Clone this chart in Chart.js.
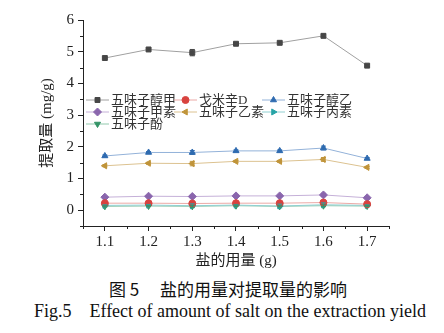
<!DOCTYPE html>
<html>
<head>
<meta charset="utf-8">
<script src="https://cdn.jsdelivr.net/npm/chart.js@4"></script>
<style>
  body { margin: 0; background: #fff; width: 444px; height: 333px; overflow: hidden; position: relative; }
  #wrap { position: absolute; left: 0; top: 0; width: 444px; height: 270px; }
  .cap { position: absolute; left: 0; width: 444px; text-align: center; color: #111; white-space: pre; }
  #cap1 { top: 276px; font: 17px "Noto Sans CJK SC", sans-serif; left: 6px; }
  #cap2 { top: 301px; font: 18px "Liberation Serif", serif; left: 8px; }
</style>
</head>
<body>
<div id="wrap"><canvas id="chart" width="444" height="270"></canvas></div>
<div class="cap" id="cap1">图 5　 盐的用量对提取量的影响</div>
<div class="cap" id="cap2">Fig.5    Effect of amount of salt on the extraction yield</div>
<script>
// salt amount (g)
const saltAmounts = [1.1, 1.2, 1.3, 1.4, 1.5, 1.6, 1.7];

// extraction yield (mg/g)
const schisandrinA  = [4.80, 5.07, 4.97, 5.25, 5.28, 5.50, 4.56]; // 五味子醇甲
const gomisinD      = [0.22, 0.22, 0.21, 0.22, 0.22, 0.24, 0.19]; // 戈米辛D
const schisandrolB  = [1.71, 1.82, 1.82, 1.87, 1.87, 1.96, 1.63]; // 五味子醇乙
const deoxySchisA   = [0.41, 0.44, 0.43, 0.45, 0.45, 0.48, 0.39]; // 五味子甲素
const schisandrinB  = [1.40, 1.48, 1.47, 1.54, 1.54, 1.60, 1.35]; // 五味子乙素
const schisandrinC  = [0.15, 0.16, 0.14, 0.16, 0.13, 0.17, 0.15]; // 五味子丙素
const schisanhenol  = [0.12, 0.13, 0.12, 0.14, 0.12, 0.14, 0.13]; // 五味子酚

// error bars (sd)
const errA  = [0.03, 0.03, 0.10, 0.03, 0.03, 0.05, 0.03];
const errD  = [0.02, 0.02, 0.03, 0.02, 0.02, 0.03, 0.02];
const errB2 = [0.03, 0.03, 0.06, 0.03, 0.03, 0.06, 0.03];
const errJ  = [0.02, 0.02, 0.04, 0.02, 0.02, 0.05, 0.02];
const errB  = [0.03, 0.03, 0.07, 0.03, 0.03, 0.06, 0.03];
const errC  = [0.02, 0.02, 0.06, 0.02, 0.06, 0.06, 0.02];
const errF  = [0.02, 0.02, 0.03, 0.02, 0.02, 0.03, 0.02];

const yTicks = [0, 1, 2, 3, 4, 5, 6];

function series(label, values, err, marker, line, style, rot) {
  return {
    label: label,
    data: saltAmounts.map((x, i) => ({ x: x, y: values[i] })),
    err: err,
    borderColor: line,
    borderWidth: 1,
    backgroundColor: marker,
    pointBackgroundColor: marker,
    pointBorderColor: marker,
    pointStyle: style,
    pointRotation: rot || 0,
    pointRadius: style === 'rectRot' ? 4 : 3.5,
    tension: 0
  };
}

const datasets = [
  series('五味子醇甲', schisandrinA, errA, '#474747', '#a0a0a0', 'rect'),
  series('戈米辛D', gomisinD, errD, '#d8433f', '#eba9a6', 'circle'),
  series('五味子醇乙', schisandrolB, errB2, '#2f6bb0', '#93b2d9', 'triangle'),
  series('五味子甲素', deoxySchisA, errJ, '#8a66ad', '#c5b0d8', 'rectRot'),
  series('五味子乙素', schisandrinB, errB, '#c0943a', '#dcc290', 'triangle', 270),
  series('五味子丙素', schisandrinC, errC, '#27a3a6', '#8fd0d2', 'triangle', 90),
  series('五味子酚', schisanhenol, errF, '#349467', '#92c9ad', 'triangle', 180)
];

const serif = '"Liberation Serif", "Noto Sans CJK SC", serif';

// error bars drawn through the scales
const errorBars = {
  id: 'errorBars',
  afterDatasetsDraw(chart) {
    const ctx = chart.ctx, xs = chart.scales.x, ys = chart.scales.y;
    chart.data.datasets.forEach(ds => {
      ctx.save();
      ctx.strokeStyle = ds.pointBorderColor;
      ctx.lineWidth = 1;
      ds.data.forEach((p, i) => {
        const px = xs.getPixelForValue(p.x);
        const y1 = ys.getPixelForValue(p.y + ds.err[i]);
        const y2 = ys.getPixelForValue(p.y - ds.err[i]);
        ctx.beginPath();
        ctx.moveTo(px, y1); ctx.lineTo(px, y2);
        ctx.moveTo(px - 2.5, y1); ctx.lineTo(px + 2.5, y1);
        ctx.moveTo(px - 2.5, y2); ctx.lineTo(px + 2.5, y2);
        ctx.stroke();
      });
      ctx.restore();
    });
  }
};

// minor ticks between majors
const minorTicks = {
  id: 'minorTicks',
  afterDraw(chart) {
    const ctx = chart.ctx, xs = chart.scales.x, ys = chart.scales.y;
    ctx.save();
    ctx.strokeStyle = '#222';
    ctx.lineWidth = 1;
    ctx.beginPath();
    for (let v = 1.05; v < 1.76; v += 0.1) {
      const px = Math.round(xs.getPixelForValue(v)) + 0.5;
      ctx.moveTo(px, xs.top); ctx.lineTo(px, xs.top + 3);
    }
    for (let v = -0.5; v < 6; v += 1) {
      const py = Math.round(ys.getPixelForValue(v)) + 0.5;
      ctx.moveTo(ys.right, py); ctx.lineTo(ys.right - 3, py);
    }
    ctx.stroke();
    ctx.restore();
  }
};

// legend inside the plot, 3 columns
const innerLegend = {
  id: 'innerLegend',
  afterDraw(chart) {
    const ctx = chart.ctx;
    const cols = [86, 174, 262];
    const rows = [100, 112, 124];
    ctx.save();
    ctx.font = '13px ' + serif;
    ctx.textBaseline = 'middle';
    chart.data.datasets.forEach((ds, i) => {
      const x = cols[i % 3], y = rows[Math.floor(i / 3)];
      ctx.strokeStyle = ds.borderColor;
      ctx.lineWidth = 1;
      ctx.beginPath();
      ctx.moveTo(x, y); ctx.lineTo(x + 23, y);
      ctx.stroke();
      ctx.fillStyle = ds.pointBackgroundColor;
      ctx.strokeStyle = ds.pointBorderColor;
      Chart.helpers.drawPoint(ctx, {
        pointStyle: ds.pointStyle, rotation: ds.pointRotation,
        radius: ds.pointRadius, borderWidth: 1
      }, x + 11.5, y);
      ctx.fillStyle = '#333';
      ctx.fillText(ds.label, x + 25, y + 1);
    });
    ctx.restore();
  }
};

new Chart(document.getElementById('chart'), {
  type: 'line',
  data: { datasets: datasets },
  plugins: [errorBars, minorTicks, innerLegend],
  options: {
    responsive: false,
    animation: false,
    layout: { padding: { top: 20, right: 55, left: 38, bottom: 0 } },
    plugins: { legend: { display: false }, tooltip: { enabled: false } },
    scales: {
      x: {
        type: 'linear',
        min: 1.05, max: 1.75,
        afterBuildTicks: s => { s.ticks = saltAmounts.map(v => ({ value: v })); },
        afterFit: s => { s.height = 44; },
        ticks: { color: '#222', font: { family: serif, size: 15 }, padding: 2, maxRotation: 0,
                 callback: v => v.toFixed(1) },
        grid: { drawOnChartArea: false, drawTicks: true, tickLength: 5, color: '#222' },
        border: { color: '#222', width: 1 },
        title: { display: true, text: '盐的用量 (g)', color: '#222',
                 font: { family: serif, size: 15 }, padding: { top: 0, bottom: 0 } }
      },
      y: {
        min: -0.5, max: 6,
        afterBuildTicks: s => { s.ticks = yTicks.map(v => ({ value: v })); },
        afterFit: s => { s.width = 45; },
        ticks: { color: '#222', font: { family: serif, size: 15 }, padding: 4 },
        grid: { drawOnChartArea: false, drawTicks: true, tickLength: 5, color: '#222' },
        border: { color: '#222', width: 1 },
        title: { display: true, text: '提取量 (mg/g)', color: '#222',
                 font: { family: serif, size: 15 }, padding: { top: 0, bottom: 0 } }
      }
    }
  }
});
</script>
</body>
</html>
